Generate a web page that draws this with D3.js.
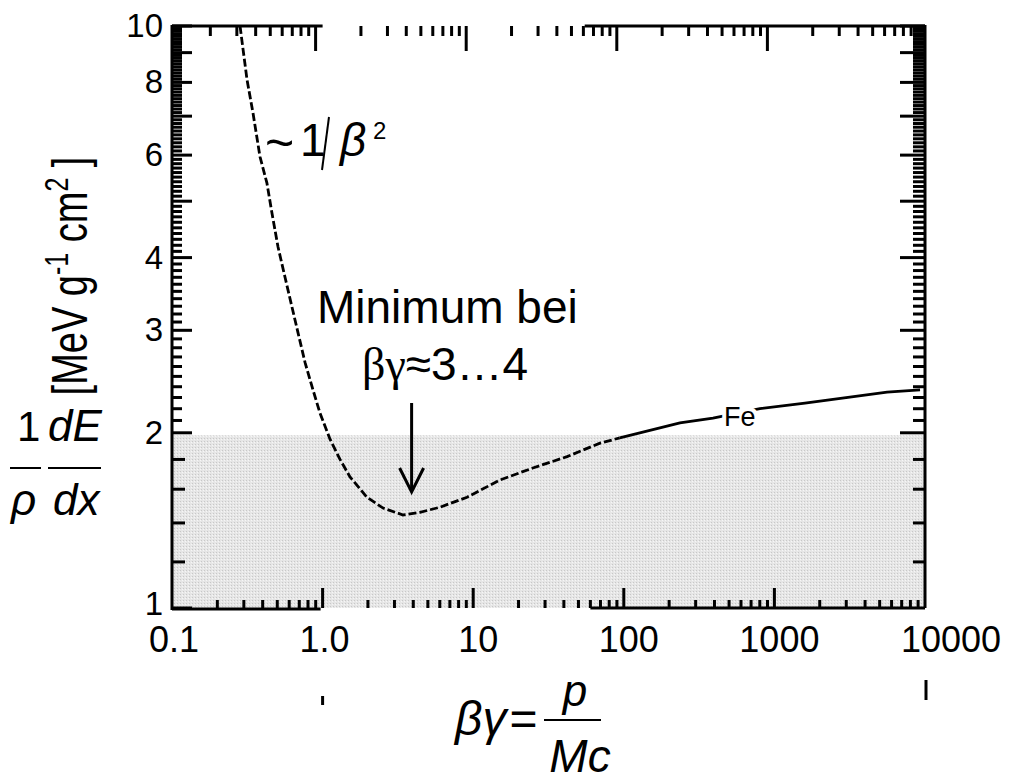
<!DOCTYPE html>
<html lang="de">
<head>
  <meta charset="utf-8">
  <title>Bethe-Bloch dE/dx</title>
  <script src="https://cdn.jsdelivr.net/npm/d3@7"></script>
  <style>
    body { margin: 0; background: #fff; }
    text { font-family: "Liberation Sans", Arial, sans-serif; fill: #000; }
  </style>
</head>
<body>
  <svg class="chart" width="1009" height="775"></svg>
  <script>
    // curve (Fe)
    var betaGamma = [0.283, 0.292, 0.315, 0.345, 0.384, 0.427, 0.461, 0.506, 0.563, 0.626,
                     0.687, 0.765, 0.851, 0.962, 1.12, 1.305, 1.52, 1.97, 2.52, 3.42,
                     4.43, 6.02, 9.1, 15.1, 24.9, 42, 69.5, 94, 236, 391,
                     801, 1596, 3080, 5600, 9270];
    var dEdx = [10, 9.39, 8.08, 7.09, 5.96, 5.37, 4.77, 4.17, 3.70, 3.29,
                2.97, 2.64, 2.40, 2.16, 1.95, 1.80, 1.68, 1.55, 1.485, 1.445,
                1.46, 1.49, 1.55, 1.66, 1.74, 1.82, 1.92, 1.96, 2.08, 2.12,
                2.20, 2.25, 2.30, 2.35, 2.37];
    var xTickValues = [0.1, 1, 10, 100, 1000, 10000];
    var xTickLabels = ["0.1", "1.0", "10", "100", "1000", "10000"];
    var yTickValues = [1, 2, 3, 4, 6, 8, 10];
    var yTickLabels = ["1", "2", "3", "4", "6", "8", "10"];
    var shadeTop = 1.98;   // grey band up to ~2
    var dashedUntil = 94;  // scan shows broken line left of ~100

    var svg = d3.select("svg.chart");

    var x = d3.scaleLog().domain([0.1, 10000]).range([172, 925]);
    var y = d3.scaleLog().domain([1, 10]).range([608, 26]);

    // stipple pattern for the grey band
    var defs = svg.append("defs");
    var pat = defs.append("pattern").attr("id", "stip")
      .attr("width", 3).attr("height", 3).attr("patternUnits", "userSpaceOnUse");
    pat.append("rect").attr("width", 3).attr("height", 3).attr("fill", "#e6e6e6");
    pat.append("rect").attr("width", 1).attr("height", 1).attr("fill", "#c8c8c8");
    pat.append("rect").attr("x", 2).attr("y", 1).attr("width", 1).attr("height", 1).attr("fill", "#f6f6f6");

    svg.append("rect")
      .attr("x", x(0.1)).attr("y", y(shadeTop))
      .attr("width", x(10000) - x(0.1)).attr("height", y(1) - y(shadeTop))
      .attr("fill", "url(#stip)");

    // minor tick values
    var xMinor = [];
    for (var d = 0.1; d < 10000; d *= 10) {
      for (var k = 2; k <= 9; k++) xMinor.push(d * k);
    }
    var yMinor = [];
    for (var v = 12; v < 20; v += 2) yMinor.push(v / 10);
    for (var v = 21; v < 100; v++) if (v % 10 !== 0) yMinor.push(v / 10);

    var ax = svg.append("g").attr("stroke", "#000").attr("stroke-width", 3).attr("fill", "none");

    // axis frame (scan has gaps in top and bottom edges)
    ax.append("line").attr("x1", x(0.1)).attr("x2", x(0.1)).attr("y1", y(10) - 1).attr("y2", y(1) + 2);
    ax.append("line").attr("x1", x(10000)).attr("x2", x(10000)).attr("y1", y(10) - 1).attr("y2", y(1));
    ax.append("line").attr("x1", x(0.1)).attr("x2", x(1)).attr("y1", y(10)).attr("y2", y(10));
    ax.append("line").attr("x1", x(55)).attr("x2", x(10000)).attr("y1", y(10)).attr("y2", y(10));
    ax.append("line").attr("x1", x(0.1)).attr("x2", x(0.97)).attr("y1", y(1) + 1).attr("y2", y(1) + 1);
    ax.append("line").attr("x1", x(60)).attr("x2", x(10000)).attr("y1", y(1)).attr("y2", y(1));

    // bottom ticks (upwards)
    ax.selectAll(".bmaj").data(xTickValues.slice(1, 5)).enter().append("line")
      .attr("x1", x).attr("x2", x).attr("y1", y(1)).attr("y2", y(1) - 20);
    ax.selectAll(".bmin").data(xMinor).enter().append("line")
      .attr("x1", x).attr("x2", x).attr("y1", y(1)).attr("y2", y(1) - 8);

    // top ticks (downwards, scan is shifted a bit left)
    var topShift = -7;
    ax.selectAll(".tmaj").data(xTickValues.slice(1, 5)).enter().append("line")
      .attr("x1", function(d) { return x(d) + topShift; }).attr("x2", function(d) { return x(d) + topShift; })
      .attr("y1", y(10)).attr("y2", y(10) + 25);
    ax.selectAll(".tmin").data(xMinor).enter().append("line")
      .attr("x1", function(d) { return x(d) + topShift; }).attr("x2", function(d) { return x(d) + topShift; })
      .attr("y1", y(10)).attr("y2", y(10) + 10);

    // left ticks (inwards)
    ax.selectAll(".lmaj").data(d3.range(1, 11)).enter().append("line")
      .attr("x1", x(0.1)).attr("x2", x(0.1) + 20).attr("y1", y).attr("y2", y);
    ax.selectAll(".lmin").data(yMinor).enter().append("line")
      .attr("x1", x(0.1)).attr("x2", function(d) { return x(0.1) + (d < 2 ? 13 : 10); })
      .attr("y1", y).attr("y2", y);

    // right ticks (inwards)
    ax.selectAll(".rmaj").data(d3.range(2, 11)).enter().append("line")
      .attr("x1", x(10000)).attr("x2", x(10000) - 25).attr("y1", y).attr("y2", y);
    ax.selectAll(".rmin").data(yMinor).enter().append("line")
      .attr("x1", x(10000)).attr("x2", x(10000) - 12).attr("y1", y).attr("y2", y);

    // stray scan marks under the axis
    ax.append("line").attr("x1", x(1)).attr("x2", x(1)).attr("y1", 696).attr("y2", 705);
    ax.append("line").attr("x1", x(10000) + 1).attr("x2", x(10000) + 1).attr("y1", 680).attr("y2", 700);

    // tick labels
    svg.selectAll(".xl").data(xTickValues).enter().append("text")
      .attr("x", function(d, i) { return i === 5 ? 1001 : x(d) + (i > 1 ? 5 : 2); })
      .attr("y", 652)
      .attr("text-anchor", function(d, i) { return i === 5 ? "end" : "middle"; })
      .attr("font-size", 36)
      .text(function(d, i) { return xTickLabels[i]; });

    svg.selectAll(".yl").data(yTickValues).enter().append("text")
      .attr("x", 163)
      .attr("y", function(d) { return y(d) + (d === 1 ? 7 : 11); })
      .attr("text-anchor", "end")
      .attr("font-size", 33)
      .text(function(d, i) { return yTickLabels[i]; });

    // the curve
    var pts = betaGamma.map(function(b, i) { return { bg: b, v: dEdx[i] }; });
    var line = d3.line()
      .x(function(d) { return x(d.bg); })
      .y(function(d) { return y(d.v); });

    svg.append("path")
      .datum(pts.filter(function(d) { return d.bg <= dashedUntil; }))
      .attr("d", line)
      .attr("fill", "none").attr("stroke", "#000")
      .attr("stroke-width", 2.8).attr("stroke-dasharray", "8,3");
    svg.append("path")
      .datum(pts.filter(function(d) { return d.bg >= dashedUntil; }))
      .attr("d", line)
      .attr("fill", "none").attr("stroke", "#000")
      .attr("stroke-width", 2.8);

    svg.append("text")
      .attr("x", 724).attr("y", 426)
      .attr("font-size", 27)
      .attr("stroke", "#fff").attr("stroke-width", 8).attr("paint-order", "stroke")
      .text("Fe");

    // ~ 1/beta^2
    svg.append("text").attr("x", 265).attr("y", 160).attr("font-size", 50).text("~");
    svg.append("text").attr("x", 300).attr("y", 156).attr("font-size", 46).text("1");
    svg.append("line").attr("x1", 329).attr("y1", 117).attr("x2", 322).attr("y2", 170)
      .attr("stroke", "#000").attr("stroke-width", 2);
    svg.append("text").attr("x", 340).attr("y", 156).attr("font-size", 46)
      .attr("font-style", "italic").text("β");
    svg.append("text").attr("x", 373).attr("y", 139).attr("font-size", 24).text("2");

    // minimum annotation
    svg.append("text").attr("x", 317).attr("y", 323).attr("font-size", 46).text("Minimum bei");
    var mt = svg.append("text").attr("x", 362).attr("y", 380).attr("font-size", 46);
    mt.append("tspan").attr("font-family", "'Liberation Serif', 'Times New Roman', serif").text("βγ");
    mt.append("tspan").text("≈3…4");

    svg.append("line").attr("x1", x(3.9)).attr("x2", x(3.9)).attr("y1", 403).attr("y2", 490)
      .attr("stroke", "#000").attr("stroke-width", 3);
    svg.append("polyline")
      .attr("points", [[x(3.9) - 12, 468], [x(3.9), 492], [x(3.9) + 12, 468]].join(" "))
      .attr("fill", "none").attr("stroke", "#000").attr("stroke-width", 3);

    // y axis title
    var yt = svg.append("text")
      .attr("transform", "translate(87,276) rotate(-90) scale(1,1.3)")
      .attr("text-anchor", "middle")
      .attr("font-size", 38);
    yt.append("tspan").text("[MeV g");
    yt.append("tspan").attr("font-size", 25).attr("dy", -15).text("-1");
    yt.append("tspan").attr("dy", 15).text(" cm");
    yt.append("tspan").attr("font-size", 25).attr("dy", -15).text("2");
    yt.append("tspan").attr("dy", 15).text(" ]");

    // 1/rho dE/dx
    svg.append("text").attr("x", 17).attr("y", 441).attr("font-size", 42).text("1");
    svg.append("text").attr("x", 48).attr("y", 441).attr("font-size", 44)
      .attr("font-style", "italic").text("dE");
    svg.append("line").attr("x1", 10).attr("x2", 41).attr("y1", 468).attr("y2", 468)
      .attr("stroke", "#000").attr("stroke-width", 2);
    svg.append("line").attr("x1", 48).attr("x2", 101).attr("y1", 468).attr("y2", 468)
      .attr("stroke", "#000").attr("stroke-width", 2);
    svg.append("text").attr("x", 11).attr("y", 515).attr("font-size", 44)
      .attr("font-style", "italic").text("ρ");
    svg.append("text").attr("x", 53).attr("y", 515).attr("font-size", 44)
      .attr("font-style", "italic").text("dx");

    // x axis title
    var xt = svg.append("text").attr("x", 455).attr("y", 735).attr("font-size", 48);
    xt.append("tspan").attr("font-style", "italic").text("βγ");
    xt.append("tspan").attr("dx", 3).text("=");
    svg.append("line").attr("x1", 544).attr("x2", 601).attr("y1", 720).attr("y2", 720)
      .attr("stroke", "#000").attr("stroke-width", 2);
    svg.append("text").attr("x", 575).attr("y", 706).attr("font-size", 44)
      .attr("text-anchor", "middle").attr("font-style", "italic").text("p");
    svg.append("text").attr("x", 580).attr("y", 772).attr("font-size", 46)
      .attr("text-anchor", "middle").attr("font-style", "italic").text("Mc");
  </script>
</body>
</html>
